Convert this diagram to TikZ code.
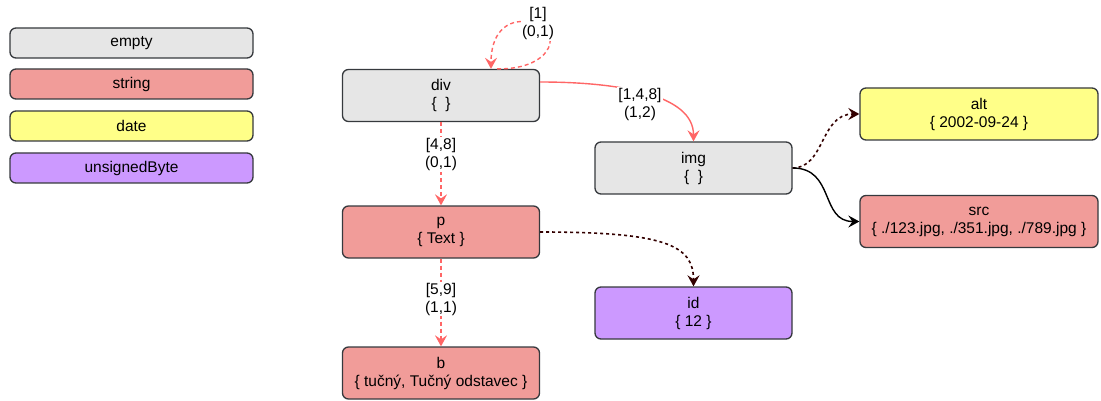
\documentclass[tikz,border=0pt]{standalone}
\usepackage{fontspec}
\setmainfont{Liberation Sans}
\usetikzlibrary{arrows.meta,calc}
\definecolor{cempty}{HTML}{E6E6E6}
\definecolor{cstring}{HTML}{F19C99}
\definecolor{cdate}{HTML}{FFFF88}
\definecolor{cbyte}{HTML}{CC99FF}
\definecolor{cbord}{HTML}{36393D}
\definecolor{cred}{HTML}{FF6666}
\definecolor{cbrown}{HTML}{330000}
\begin{document}
\begin{tikzpicture}[x=1pt,y=-1pt,
  font=\fontsize{15.5}{18}\selectfont,
  box/.style={draw=cbord, line width=1.3pt, rounded corners=6pt, align=center, inner sep=0pt},
  legend/.style={box, minimum width=243pt, minimum height=30pt},
  elem/.style={box, minimum width=197pt, minimum height=52pt},
  wide/.style={box, minimum width=238pt, minimum height=52pt},
  tip/.style={-{Stealth[length=11pt,width=12pt,inset=4pt]}},
  redline/.style={tip, draw=cred, line width=1.4pt},
  reddash/.style={redline, dash pattern=on 4pt off 3pt},
  browndash/.style={tip, draw=cbrown, line width=1.6pt, dash pattern=on 3pt off 3pt},
  blackline/.style={tip, draw=black, line width=1.4pt},
  lbl/.style={fill=white, align=center, inner sep=1pt}]
\useasboundingbox (0,0) rectangle (1101,401);

% legend
\node[legend, fill=cempty]  (lempty)  at (131.5,43)  {empty};
\node[legend, fill=cstring] (lstring) at (131.5,84)  {string};
\node[legend, fill=cdate]   (ldate)   at (131.5,126) {date};
\node[legend, fill=cbyte]   (lbyte)   at (131.5,168) {unsignedByte};

% elements and attributes
\node[elem, fill=cempty]  (div) at (441,95.5) {div\\\{\ \ \}};
\node[elem, fill=cempty]  (img) at (693.5,168)  {img\\\{\ \ \}};
\node[elem, fill=cstring] (p)   at (441,232)  {p\\\{ Text \}};
\node[elem, fill=cbyte]   (id)  at (693.5,313)  {id\\\{ 12 \}};
\node[elem, fill=cstring] (b)   at (441,373)  {b\\\{ tučný, Tučný odstavec \}};
\node[wide, fill=cdate]   (alt) at (979,114)    {alt\\\{ 2002-09-24 \}};
\node[wide, fill=cstring] (src) at (979,221.5)  {src\\\{ ./123.jpg, ./351.jpg, ./789.jpg \}};

% connectors
\draw[reddash] ([xshift=56pt]div.north) .. controls (555,70) and (565,28) .. (530,22)
  .. controls (505,18) and (491,35) .. ([xshift=50pt]div.north);
\node[lbl] (l1) at (538,23.5) {[1]\\(0,1)};

\draw[redline] ([yshift=13.5pt]div.east) .. controls (620,82) and (693.5,95) .. (img.north);
\node[lbl] (l2) at (640,104) {[1,4,8]\\(1,2)};

\draw[reddash] (div.south) -- (p.north);
\node[lbl] (l3) at (441,154.5) {[4,8]\\(0,1)};

\draw[reddash] (p.south) -- (b.north);
\node[lbl] (l4) at (441,299) {[5,9]\\(1,1)};

\draw[browndash] (p.east) .. controls (665,232) and (693.5,245) .. (id.north);
\draw[browndash] (img.east) .. controls (825,168) and (820,114) .. (alt.west);
\draw[blackline] (img.east) .. controls (835,168) and (820,221.5) .. (src.west);
\end{tikzpicture}
\end{document}
